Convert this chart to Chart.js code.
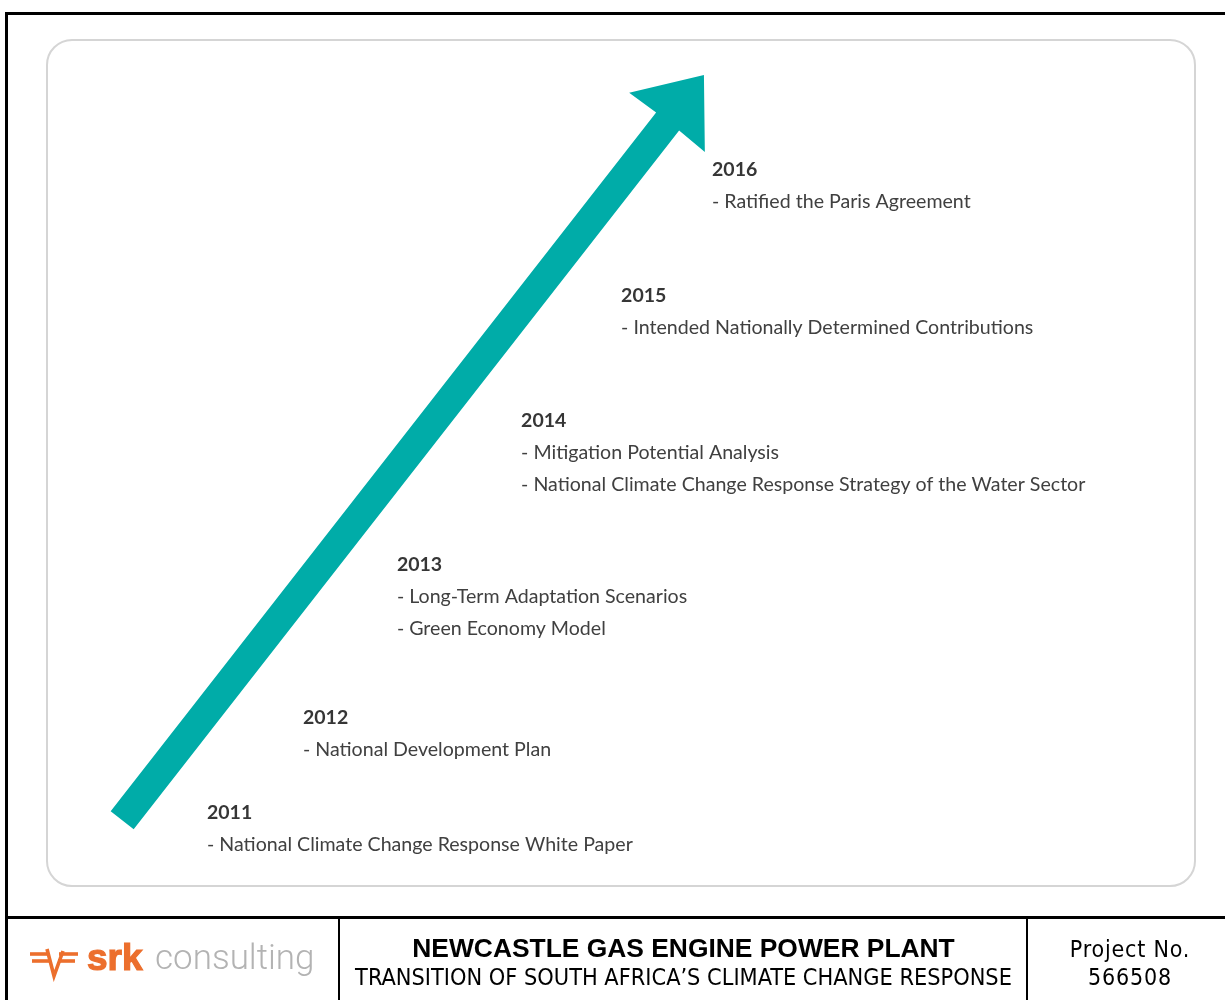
<!DOCTYPE html>
<html>
<head>
<meta charset="utf-8">
<script src="https://cdn.jsdelivr.net/npm/chart.js@4"></script>
<style>
  html, body { margin:0; padding:0; background:#fff; }
  body { width:1225px; height:1000px; position:relative; overflow:hidden; }
  #outer { position:absolute; left:5px; top:12px; width:1240px; height:1000px; border-left:3px solid #000; border-top:3px solid #000; box-sizing:border-box; }
  #frame { position:absolute; left:46px; top:39px; width:1150px; height:848px; border:2px solid #d5d5d5; border-radius:26px; box-sizing:border-box; }
  #chart { position:absolute; left:0; top:0; }
  #footer { position:absolute; left:5px; top:916px; width:1225px; height:90px; border-top:3px solid #000; }
  .vsep { position:absolute; top:916px; width:2px; height:90px; background:#000; }
  #title1 { position:absolute; left:340px; width:687px; top:933px; text-align:center; font:bold 26.4px "Liberation Sans", Arial, sans-serif; color:#000; line-height:30px; }
  #title2 { position:absolute; left:340px; width:687px; top:962px; text-align:center; font:23.3px "DejaVu Sans Condensed", "DejaVu Sans", sans-serif; color:#000; line-height:30px; }
  #proj1 { position:absolute; left:1032px; width:196px; top:934px; text-align:center; font:23px "DejaVu Sans Condensed", "DejaVu Sans", sans-serif; letter-spacing:0.8px; color:#000; line-height:30px; }
  #proj2 { position:absolute; left:1032px; width:196px; top:962px; text-align:center; font:23px "DejaVu Sans Condensed", "DejaVu Sans", sans-serif; letter-spacing:0.8px; color:#000; line-height:30px; }
  #logo { position:absolute; left:28px; top:937px; height:48px; white-space:nowrap; }
  #srk { position:absolute; left:59px; top:0px; font:bold 37px "Liberation Sans", Arial, sans-serif; color:#ec6f2d; -webkit-text-stroke:1.2px #ec6f2d; letter-spacing:0px; }
  #cons { position:absolute; left:127px; top:0px; font:300 35px Roboto, sans-serif; color:#b3b3b3; }
  #icon { position:absolute; left:0; top:9px; }
</style>
</head>
<body>
<div id="outer"></div>
<div id="frame"></div>
<canvas id="chart" width="1225" height="1000"></canvas>
<div id="footer"></div>
<div class="vsep" style="left:338px"></div>
<div class="vsep" style="left:1026px"></div>
<div id="logo">
  <svg id="icon" width="52" height="36" viewBox="0 0 52 36">
    <g stroke="#ec6f2d" stroke-width="3.6" fill="none" stroke-linejoin="miter">
      <line x1="2" y1="8" x2="21" y2="8"/>
      <line x1="4" y1="15" x2="21" y2="15"/>
      <polyline points="19,3 26,30 35,5"/>
      <line x1="31" y1="8" x2="50" y2="8"/>
      <line x1="30" y1="15" x2="47" y2="15"/>
    </g>
  </svg>
  <span id="srk">srk</span>
  <span id="cons">consulting</span>
</div>
<div id="title1">NEWCASTLE GAS ENGINE POWER PLANT</div>
<div id="title2">TRANSITION OF SOUTH AFRICA’S CLIMATE CHANGE RESPONSE</div>
<div id="proj1">Project No.</div>
<div id="proj2">566508</div>
<script>
// ---- Data ----
const years = ['2011', '2012', '2013', '2014', '2015', '2016'];
const events = [
  ['- National Climate Change Response White Paper'],
  ['- National Development Plan'],
  ['- Long-Term Adaptation Scenarios', '- Green Economy Model'],
  ['- Mitigation Potential Analysis', '- National Climate Change Response Strategy of the Water Sector'],
  ['- Intended Nationally Determined Contributions'],
  ['- Ratified the Paris Agreement']
];
// timeline position of each year's label (x in years, y as progress step)
const eventYearPos = [2011, 2011.95, 2012.88, 2014.11, 2015.10, 2016.0];
const eventProgress = [0, 0.739, 1.928, 3.048, 4.02, 5.0];
// arrow: tail and tip in the same units
const arrowYears = [2010.16, 2015.92];
const arrowProgress = [-0.01, 5.785];

const TEAL = '#00aca8';

const timelinePlugin = {
  id: 'timeline',
  afterDatasetsDraw(chart) {
    const ctx = chart.ctx;
    // arrow
    const a = chart.getDatasetMeta(0).data;
    const x0 = a[0].x, y0 = a[0].y, x1 = a[1].x, y1 = a[1].y;
    const len = Math.hypot(x1 - x0, y1 - y0);
    const ux = (x1 - x0) / len, uy = (y1 - y0) / len;
    const nx = -uy, ny = ux;
    const headLen = 60, headHalf = 48, shaftHalf = 14.6;
    const bx = x1 - ux * headLen, by = y1 - uy * headLen;
    ctx.save();
    ctx.fillStyle = TEAL;
    ctx.beginPath();
    ctx.moveTo(x0 + nx * shaftHalf, y0 + ny * shaftHalf);
    ctx.lineTo(bx + nx * shaftHalf + ux, by + ny * shaftHalf + uy);
    ctx.lineTo(bx + nx * headHalf, by + ny * headHalf);
    ctx.lineTo(x1, y1);
    ctx.lineTo(bx - nx * headHalf, by - ny * headHalf);
    ctx.lineTo(bx - nx * shaftHalf + ux, by - ny * shaftHalf + uy);
    ctx.lineTo(x0 - nx * shaftHalf, y0 - ny * shaftHalf);
    ctx.closePath();
    ctx.fill();
    // text
    const pts = chart.getDatasetMeta(1).data;
    ctx.textAlign = 'left';
    ctx.textBaseline = 'alphabetic';
    pts.forEach((p, i) => {
      ctx.fillStyle = '#363636';
      ctx.font = 'bold 19.5px Lato, sans-serif';
      ctx.fillText(years[i], p.x, p.y);
      ctx.fillStyle = '#404040';
      ctx.font = '19.6px Lato, sans-serif';
      events[i].forEach((t, j) => {
        ctx.fillText(t, p.x, p.y + 32 * (j + 1));
      });
    });
    ctx.restore();
  }
};

new Chart(document.getElementById('chart'), {
  type: 'scatter',
  data: {
    datasets: [
      {
        label: 'arrow',
        data: arrowYears.map((x, i) => ({ x, y: arrowProgress[i] })),
        pointRadius: 0, showLine: false
      },
      {
        label: 'events',
        data: eventYearPos.map((x, i) => ({ x, y: eventProgress[i] })),
        pointRadius: 0, showLine: false
      }
    ]
  },
  options: {
    responsive: false,
    animation: false,
    layout: { padding: 0 },
    plugins: { legend: { display: false }, tooltip: { enabled: false } },
    scales: {
      x: { type: 'linear', display: false, min: 2008.9505, max: 2021.079 },
      y: { type: 'linear', display: false, min: -1.4075, max: 6.3686 }
    }
  },
  plugins: [timelinePlugin]
});
</script>
</body>
</html>
